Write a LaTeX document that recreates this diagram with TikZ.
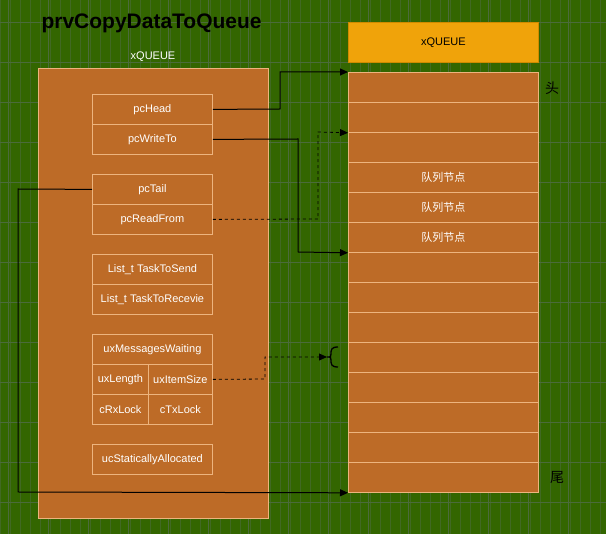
\documentclass[tikz,border=0pt]{standalone}
\usepackage{fontspec}
\setmainfont{Liberation Sans}
\newfontfamily\cjk{Noto Sans CJK SC}
\usetikzlibrary{arrows.meta,decorations.pathreplacing}
\definecolor{bg}{HTML}{336600}
\definecolor{gridc}{HTML}{4B6B3B}
\definecolor{cell}{HTML}{BD6B27}
\definecolor{cellb}{HTML}{EDB47E}
\definecolor{hdr}{HTML}{F0A30A}
\definecolor{hdrb}{HTML}{D08A00}
\begin{document}
\begin{tikzpicture}[x=1pt,y=-1pt,
  box/.style={draw=cellb,fill=cell,line width=0.8pt,inner sep=0pt,anchor=north west,text=white,font=\fontsize{11}{12}\selectfont},
  conn/.style={draw=black,line width=1pt},
  arr/.style={conn,-{Triangle[length=8pt,width=7pt]}}]
\fill[bg] (0,0) rectangle (606,534);
\useasboundingbox (0,0) rectangle (606,534);
\draw[gridc!60!bg,line width=0.3pt,step=10] (0,0) grid (606,534);
\foreach \x in {8,48,...,606} \draw[gridc,line width=0.6pt] (\x,0) -- (\x,534);
\foreach \y in {22,62,...,534} \draw[gridc,line width=0.6pt] (0,\y) -- (606,\y);
\node[anchor=west,font=\bfseries\fontsize{21}{24}\selectfont] (title) at (38,23) {prvCopyDataToQueue};
\node[text=white,font=\fontsize{11}{12}\selectfont] (qlabel) at (153,57) {xQUEUE};
\node[box,minimum width=230,minimum height=450] (q) at (38,68) {};
\node[box,minimum width=120,minimum height=30] (head) at (92,94) {pcHead};
\node[box,minimum width=120,minimum height=30] (wt) at (92,124) {pcWriteTo};
\node[box,minimum width=120,minimum height=30] (tail) at (92,174) {pcTail};
\node[box,minimum width=120,minimum height=30] (rf) at (92,204) {pcReadFrom};
\node[box,minimum width=120,minimum height=30] (ts) at (92,254) {List\_t TaskToSend};
\node[box,minimum width=120,minimum height=30] (tr) at (92,284) {List\_t TaskToRecevie};
\node[box,minimum width=120,minimum height=30] (mw) at (92,334) {uxMessagesWaiting};
\node[box,minimum width=56,minimum height=30] (len) at (92,364) {uxLength};
\node[box,minimum width=64,minimum height=30] (isz) at (148,364) {uxItemSize};
\node[box,minimum width=56,minimum height=30] (rx) at (92,394) {cRxLock};
\node[box,minimum width=64,minimum height=30] (tx) at (148,394) {cTxLock};
\node[box,minimum width=120,minimum height=30] (sa) at (92,444) {ucStaticallyAllocated};
\node[box,draw=hdrb,fill=hdr,text=black,minimum width=190,minimum height=40] (xh) at (348,22) {xQUEUE};
\foreach \i in {0,...,13} {
  \pgfmathtruncatemacro{\yy}{72+30*\i}
  \node[box,minimum width=190,minimum height=30] (r\i) at (348,\yy) {};
}
\foreach \i in {3,4,5} \node[text=white,font=\cjk\fontsize{11}{12}\selectfont] at (r\i.center) {队列节点};
\node[font=\cjk\fontsize{14}{16}\selectfont] (hd) at (552,88) {头};
\node[font=\cjk\fontsize{14}{16}\selectfont] (wei) at (557,478) {尾};
\coordinate (bt) at (327,357);
\draw[arr] (head.east) -- (280,109) -- (280,72) -- (r0.north west);
\draw[arr] (wt.east) -- (298,139) -- (298,252) -- (r5.south west);
\draw[arr,dashed,line width=0.8pt] (rf.east) -- (318,219) -- (318,132) -- (r1.south west);
\draw[arr] (tail.west) -- (18,189) -- (18,492) -- (r13.south west);
\draw[arr,dashed,line width=0.8pt] (isz.east) -- (265,379) -- (265,357) -- (bt);
\draw[line width=1.3pt] (338,347) .. controls (331,347) and (331,350) .. (331,354) .. controls (331,357) .. (327,357) .. controls (331,357) .. (331,360) .. controls (331,364) and (331,367) .. (338,367);
\end{tikzpicture}
\end{document}
